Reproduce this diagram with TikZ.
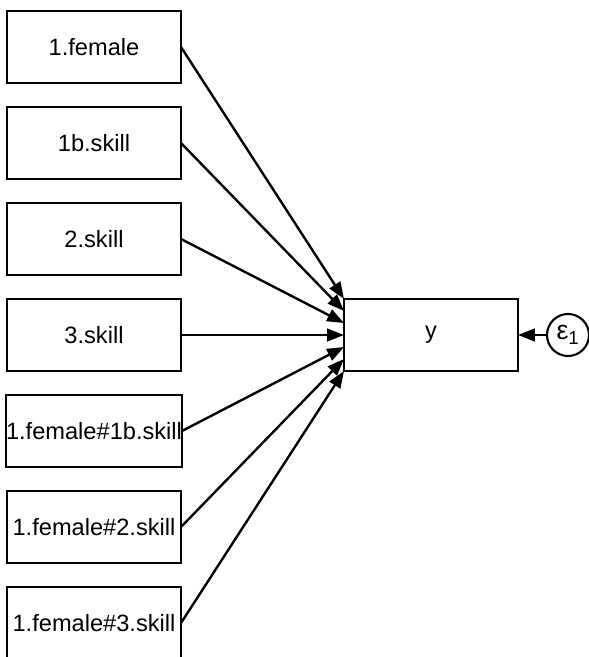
\documentclass[tikz,border=0pt]{standalone}
\usepackage{fontspec}
\setmainfont{Liberation Sans}
\usetikzlibrary{positioning, calc, arrows.meta}

\begin{document}
\begin{tikzpicture}[
  var/.style={rectangle, draw=black, line width=1.5pt, minimum width=4.35cm, minimum height=1.8cm, inner sep=0pt, outer sep=0pt},
  err/.style={circle, draw=black, line width=1.5pt, minimum size=1.05cm, inner sep=0pt, outer sep=0pt},
  path/.style={-{Triangle[length=12pt,width=9pt]}, line width=1.7pt},
  node distance=0.6cm,
  font=\fontsize{16.8}{20}\selectfont
]
\useasboundingbox (0,0) rectangle (14.725,-16.425);
  \node[var] (female) at (2.35,-1.175) {1.female};
\node[var, below=of female] (skill1b) {1b.skill};
\node[var, below=of skill1b] (skill2) {2.skill};
\node[var, below=of skill2] (skill3) {3.skill};
\node[var, below=of skill3] (fem1b) {1.female\#1b.skill};
\node[var, below=of fem1b] (fem2) {1.female\#2.skill};
\node[var, below=of fem2] (fem3) {1.female\#3.skill};
\node[var, right=4.075cm of skill3] (y) {y};
\node[err, right=0.725cm of y] (e1) {\fontsize{19}{20}\selectfont ε\textsubscript{1}};
\foreach \v [count=\i from 0] in {female, skill1b, skill2, skill3, fem1b, fem2, fem3}
  \draw[path] (\v.east) -- ($(y.north west)!\i/6!(y.south west)$);
\path[path]
	(e1) edge (y)
;
\end{tikzpicture}
\end{document}
